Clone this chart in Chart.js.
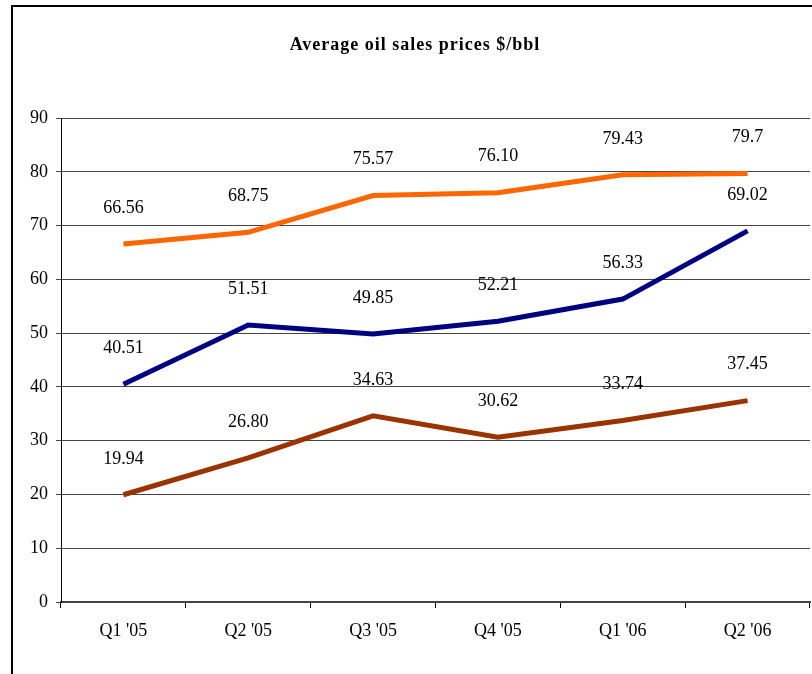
<!DOCTYPE html>
<html>
<head>
<meta charset="utf-8">
<script src="https://cdn.jsdelivr.net/npm/chart.js@4"></script>
<style>
  html, body { margin: 0; padding: 0; background: #fff; overflow: hidden; }
  #wrap { position: relative; width: 812px; height: 674px; }
  #frame { position: absolute; left: 11px; top: 5px; width: 900px; height: 900px; border: 2px solid #000; box-sizing: border-box; }
  canvas { position: absolute; left: 0; top: 0; }
</style>
</head>
<body>
<div id="wrap">
  <div id="frame"></div>
  <canvas id="chart" width="812" height="674"></canvas>
</div>
<script>
// datos
const quarters = ["Q1 '05", "Q2 '05", "Q3 '05", "Q4 '05", "Q1 '06", "Q2 '06"];
const orangeVals = [66.56, 68.75, 75.57, 76.10, 79.43, 79.7];
const navyVals   = [40.51, 51.51, 49.85, 52.21, 56.33, 69.02];
const brownVals  = [19.94, 26.80, 34.63, 30.62, 33.74, 37.45];
const orangeText = ['66.56', '68.75', '75.57', '76.10', '79.43', '79.7'];
const navyText   = ['40.51', '51.51', '49.85', '52.21', '56.33', '69.02'];
const brownText  = ['19.94', '26.80', '34.63', '30.62', '33.74', '37.45'];
const yTicks = [0, 10, 20, 30, 40, 50, 60, 70, 80, 90];

const SERIF = '"Liberation Serif", "DejaVu Serif", serif';

// titulo + etiquetas de valores
const labelsPlugin = {
  id: 'labels',
  afterDatasetsDraw(chart) {
    const ctx = chart.ctx;
    ctx.save();
    ctx.fillStyle = '#000';
    ctx.font = 'bold 18px ' + SERIF;
    ctx.textAlign = 'center';
    ctx.textBaseline = 'middle';
    ctx.letterSpacing = '1px';
    ctx.fillText('Average oil sales prices $/bbl', 415, 45);
    ctx.letterSpacing = '0px';

    ctx.font = '18px ' + SERIF;
    chart.data.datasets.forEach((ds, i) => {
      const meta = chart.getDatasetMeta(i);
      meta.data.forEach((pt, j) => {
        ctx.fillText(ds.valueText[j], pt.x, pt.y - 36);
      });
    });
    ctx.restore();
  }
};

new Chart(document.getElementById('chart'), {
  type: 'line',
  data: {
    labels: quarters,
    datasets: [
      { data: orangeVals, valueText: orangeText, borderColor: '#ff6600', borderWidth: 5 },
      { data: navyVals, valueText: navyText, borderColor: '#000080', borderWidth: 5 },
      { data: brownVals, valueText: brownText, borderColor: '#993300', borderWidth: 5 },
    ],
  },
  options: {
    responsive: false,
    animation: false,
    events: [],
    elements: { point: { radius: 0 }, line: { tension: 0, borderCapStyle: 'butt' } },
    layout: { padding: { top: 118, right: 2, bottom: 12, left: 0 } },
    plugins: { legend: { display: false }, tooltip: { enabled: false } },
    scales: {
      x: {
        offset: true,
        grid: { display: true, offset: true, drawOnChartArea: false, drawTicks: true, tickLength: 6, color: '#000' },
        border: { display: true, color: '#444', width: 2 },
        ticks: { color: '#000', font: { family: SERIF, size: 18 }, padding: 12, maxRotation: 0 },
        afterFit(scale) { scale.height = 60; },
      },
      y: {
        min: 0, max: 90,
        afterBuildTicks(scale) { scale.ticks = yTicks.map(v => ({ value: v })); },
        grid: { color: '#444', lineWidth: 1, tickLength: 5 },
        border: { display: true, color: '#000', width: 1 },
        ticks: { color: '#000', font: { family: SERIF, size: 18 }, padding: 8 },
        afterFit(scale) { scale.width = 61; },
      },
    },
  },
  plugins: [labelsPlugin],
});
</script>
</body>
</html>
